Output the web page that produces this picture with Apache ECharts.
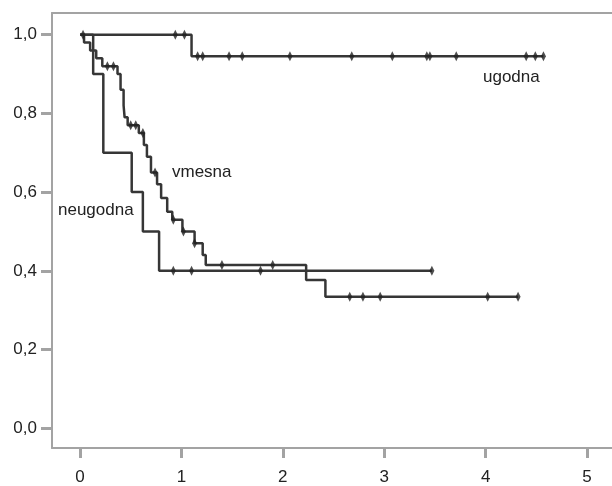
<!DOCTYPE html>
<html>
<head>
<meta charset="utf-8">
<script src="https://cdn.jsdelivr.net/npm/echarts@6/dist/echarts.min.js"></script>
<style>
  html, body { margin: 0; padding: 0; background: #fff; }
  #main { width: 612px; height: 486px; }
</style>
</head>
<body>
<div id="main"></div>
<script>
// ticks
const xTicks = [0, 1, 2, 3, 4, 5]
const yTicks = [0, 0.2, 0.4, 0.6, 0.8, 1.0]

// ugodna
const ugodnaTimes = [0, 1.10, 4.57]
const ugodnaSurv = [1.0, 0.945, 0.945]
const ugodnaCensor = [0.94, 1.03, 1.16, 1.21, 1.47, 1.60, 2.07, 2.68, 3.08, 3.42, 3.45, 3.71, 4.40, 4.49, 4.57]

// vmesna
const vmesnaTimes = [0, 0.04, 0.10, 0.16, 0.22, 0.37, 0.40, 0.43, 0.44, 0.47, 0.58, 0.63, 0.66, 0.70, 0.76, 0.80, 0.86, 0.91, 1.01, 1.13, 1.21, 1.24, 2.23, 2.42, 4.32]
const vmesnaSurv = [1.0, 0.98, 0.96, 0.94, 0.92, 0.90, 0.86, 0.82, 0.79, 0.77, 0.75, 0.72, 0.69, 0.65, 0.62, 0.585, 0.55, 0.53, 0.50, 0.47, 0.44, 0.415, 0.377, 0.334, 0.334]
const vmesnaCensor = [0.03, 0.27, 0.33, 0.50, 0.55, 0.62, 0.74, 0.92, 1.02, 1.13, 1.40, 1.90, 2.66, 2.79, 2.96, 4.02, 4.32]

// neugodna
const neugodnaTimes = [0, 0.13, 0.23, 0.51, 0.62, 0.78, 3.47]
const neugodnaSurv = [1.0, 0.9, 0.7, 0.6, 0.5, 0.4, 0.4]
const neugodnaCensor = [0.92, 1.10, 1.78, 3.47]

function pairs(t, s) { return t.map((v, i) => [v, s[i]]) }
function survAt(t, s, x) {
    let y = s[0]
    for (let i = 0; i < t.length; i++) if (t[i] <= x) y = s[i]
    return y
}
function censorPts(t, s, c) { return c.map(x => [x, survAt(t, s, x)]) }

const lineColor = '#363636'
const axisColor = '#a3a3a3'
const font = 'Liberation Sans, Arial, sans-serif'

function kmLine(name, t, s) {
    return {
        name, type: 'line', step: 'end', symbol: 'none',
        data: pairs(t, s),
        lineStyle: { color: lineColor, width: 2.5 },
        animation: false, z: 2
    }
}
function censor(name, t, s, c) {
    return {
        name: name + '_c', type: 'scatter', symbol: 'diamond', symbolSize: [5, 10],
        data: censorPts(t, s, c),
        itemStyle: { color: '#222' },
        animation: false, z: 3
    }
}

const myChart = echarts.init(document.getElementById('main'))
myChart.setOption({
    backgroundColor: '#fff',
    animation: false,
    grid: { left: 52, top: 13, right: 0, bottom: 33 },
    xAxis: [{
        type: 'value', min: -0.276, max: 5.246,
        axisLine: { show: true, onZero: false, lineStyle: { color: axisColor, width: 2 } },
        axisTick: { show: true, customValues: xTicks, length: 10, lineStyle: { color: axisColor, width: 3 } },
        axisLabel: { customValues: xTicks, margin: 21, color: '#222', fontSize: 17, fontFamily: font },
        splitLine: { show: false }
    }, {
        // top frame line
        type: 'value', position: 'top', min: -0.276, max: 5.246,
        axisLine: { show: true, onZero: false, lineStyle: { color: axisColor, width: 2 } },
        axisTick: { show: false }, axisLabel: { show: false }, splitLine: { show: false }
    }],
    yAxis: {
        type: 'value', min: -0.05, max: 1.055,
        axisLine: { show: true, onZero: false, lineStyle: { color: axisColor, width: 2 } },
        axisTick: { show: true, customValues: yTicks, length: 11, lineStyle: { color: axisColor, width: 3 } },
        axisLabel: {
            customValues: yTicks, margin: 15, color: '#222', fontSize: 17, fontFamily: font,
            formatter: v => v.toFixed(1).replace('.', ',')
        },
        splitLine: { show: false }
    },
    graphic: [
        { type: 'text', x: 483, y: 77, style: { text: 'ugodna', font: '17px ' + font, fill: '#222', verticalAlign: 'middle' } },
        { type: 'text', x: 172, y: 172, style: { text: 'vmesna', font: '17px ' + font, fill: '#222', verticalAlign: 'middle' } },
        { type: 'text', x: 58, y: 210, style: { text: 'neugodna', font: '17px ' + font, fill: '#222', verticalAlign: 'middle' } }
    ],
    series: [
        kmLine('ugodna', ugodnaTimes, ugodnaSurv),
        kmLine('vmesna', vmesnaTimes, vmesnaSurv),
        kmLine('neugodna', neugodnaTimes, neugodnaSurv),
        censor('ugodna', ugodnaTimes, ugodnaSurv, ugodnaCensor),
        censor('vmesna', vmesnaTimes, vmesnaSurv, vmesnaCensor),
        censor('neugodna', neugodnaTimes, neugodnaSurv, neugodnaCensor)
    ]
})
window.addEventListener('resize', myChart.resize)
</script>
</body>
</html>
